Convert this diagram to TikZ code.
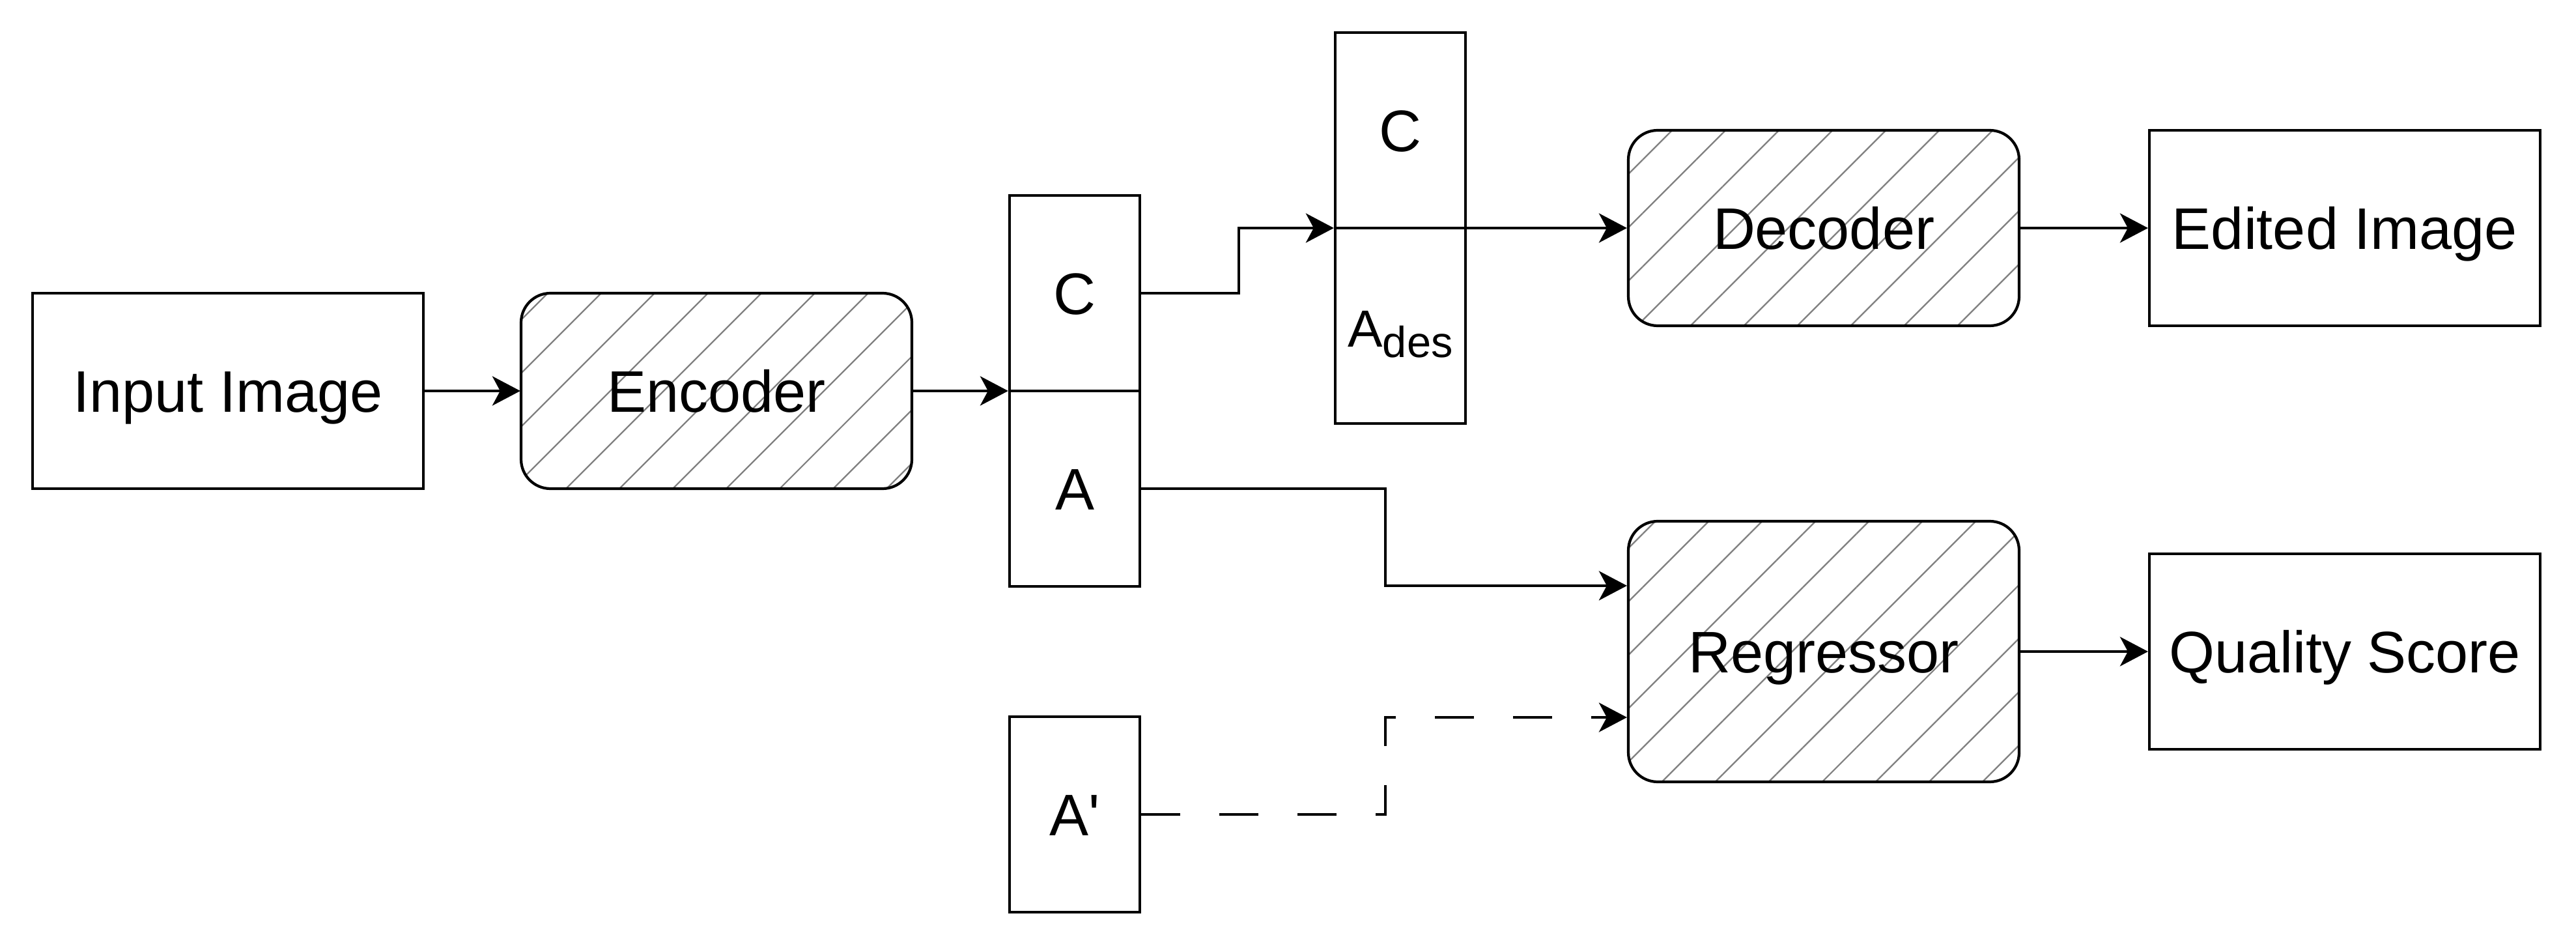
\documentclass[tikz,border=0pt]{standalone}
\usepackage{fontspec}
\setmainfont{Liberation Sans}
\usetikzlibrary{arrows.meta, patterns.meta, calc}

\begin{document}
\begin{tikzpicture}[x=0.05cm, y=-0.05cm, font=\fontsize{25.6}{30}\selectfont,
  box/.style={draw, line width=1.2pt, inner sep=0pt, minimum width=6cm, minimum height=3cm, text height=18.3pt, text depth=0pt},
  net/.style={box, rounded corners=0.45cm, pattern={Lines[angle=45, distance=0.58cm, line width=0.65pt]}, pattern color=gray},
  cell/.style={box, minimum width=2cm},
  arr/.style={line width=1.2pt, -{Stealth[length=0.43cm, width=0.45cm, inset=0.12cm]}}]
  \useasboundingbox (0,0) rectangle (791,291);
  % blocks
  \node[box] (input) at (70,120) {Input Image};
  \node[net] (enc) at (220,120) {Encoder};
  \node[cell] (cC) at (330,90) {C}; \node[cell] (cA) at (330,150) {A};
  \node[cell] (dC) at (430,40) {C};
  \node[cell] (dA) at (430,100) {\fontsize{22.8}{26}\selectfont A\raisebox{-0.2em}{\fontsize{19}{20}\selectfont des}};
  \node[cell] (ap) at (330,250) {A\textquotesingle};
  \node[net] (dec) at (560,70) {Decoder};
  \node[box] (edit) at (720,70) {Edited Image};
  \node[net, minimum height=4cm] (reg) at (560,200) {Regressor};
  \node[box] (qual) at (720,200) {Quality Score};
  % connectors
  \draw[arr] (input) -- (enc);
  \draw[arr] (enc.east) -- (enc.east -| cC.west);
  \draw[arr] (cC.east) -- ++(30,0) |- (dec.west -| dC.west);
  \draw[arr] (dec.west -| dC.east) -- (dec.west);
  \draw[arr] (dec) -- (edit);
  \draw[arr] (cA.east) -- ++(75,0) |- ($(reg.west)!0.5!(reg.north west)$);
  \draw[arr, dash pattern=on 0.6cm off 0.6cm] (ap.east) -- ++(75,0) |- ($(reg.west)!0.5!(reg.south west)$);
  \draw[arr] (reg) -- (qual);
\end{tikzpicture}
\end{document}
